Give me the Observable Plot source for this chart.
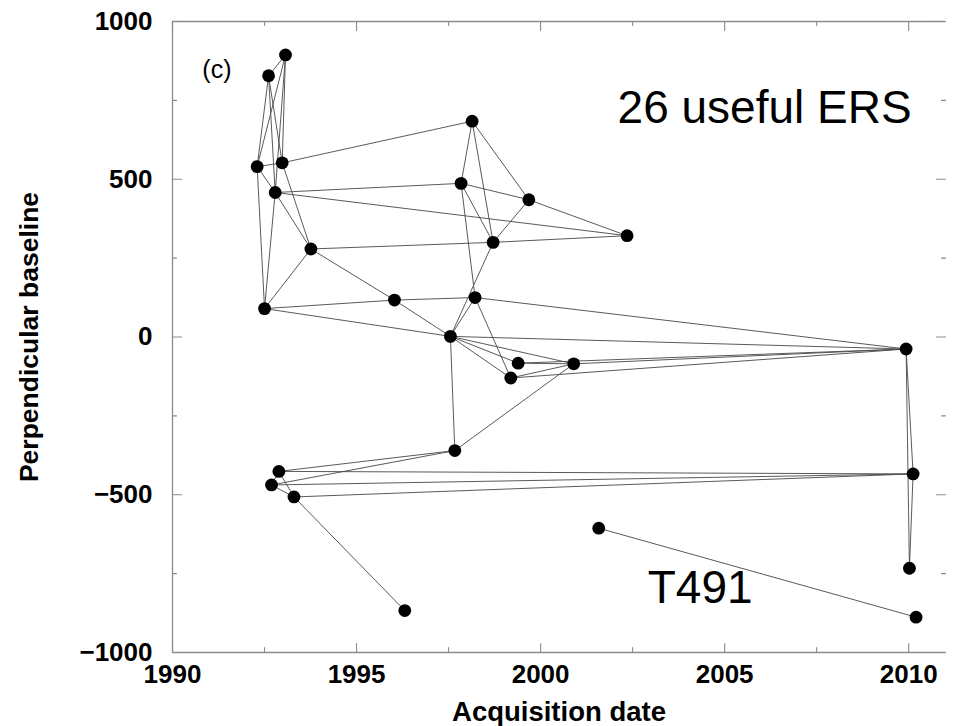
<!DOCTYPE html>
<html>
<head>
<meta charset="utf-8">
<script src="https://cdn.jsdelivr.net/npm/d3@7"></script>
<script src="https://cdn.jsdelivr.net/npm/@observablehq/plot@0.6"></script>
<style>
  html, body { margin: 0; padding: 0; background: #fff; }
  #chart svg { display: block; }
</style>
</head>
<body>
<div id="chart"></div>
<script>
// Acquisition dates (decimal years) of the ERS scenes
const dates = [
  1993.07, 1992.61, 1992.30, 1992.98, 1992.79, 1993.76, 1992.50, 1996.03,
  1997.55, 1998.14, 1997.84, 1999.68, 1998.71, 1998.22, 2002.35, 2009.93,
  1999.39, 2000.90, 1999.19, 1997.67, 1992.89, 1992.69, 1993.30, 2010.12,
  1996.31, 2001.58, 2010.02, 2010.20
];
// Perpendicular baselines (m)
const baselines = [
  894, 828, 540, 552, 458, 279, 90, 117,
  2, 684, 487, 435, 300, 125, 321, -38,
  -83, -85, -130, -360, -426, -469, -507, -434,
  -867, -606, -733, -888
];
// Interferometric pairs (1-based scene numbers)
const pairs = [
  [1,2],[1,3],[1,4],[1,5],[2,3],[2,4],[2,5],[3,4],[3,5],[3,7],[5,7],[4,6],[5,6],[6,7],
  [4,10],[5,11],[5,15],[6,8],[6,13],[7,8],[7,9],[8,9],[8,14],
  [10,11],[10,12],[10,13],[11,12],[11,13],[11,14],[12,13],[12,15],[13,15],[13,9],[14,9],
  [14,19],[14,16],[9,16],[9,17],[9,18],[9,19],[17,18],[17,16],[18,16],[19,18],[19,16],
  [18,20],[9,20],[16,24],[24,27],[16,27],[20,21],[20,22],[21,24],[22,24],[23,24],
  [21,22],[22,23],[21,23],[23,25],[26,28]
];
// Axis ticks
const xMajor = [1990, 1995, 2000, 2005, 2010];
const xMinor = [1992.5, 1997.5, 2002.5, 2007.5];
const yMajor = [-1000, -500, 0, 500, 1000];
const yMinor = [-750, -250, 250, 750];
// Annotations: text, date, baseline
const noteText = ["(c)", "26 useful ERS", "T491"];
const noteX = [1990.81, 2010.08, 2002.91];
const noteY = [822, 679, -842];

const scenes = dates.map((d, i) => ({date: d, bperp: baselines[i]}));
const links = pairs.map(([a, b]) => ({a: scenes[a - 1], b: scenes[b - 1]}));
const notes = noteText.map((t, i) => ({text: t, x: noteX[i], y: noteY[i]}));

const tickShape = {draw(ctx, l) { ctx.moveTo(0, 0); ctx.lineTo(0, -l); }};
const frameColor = "#8c8c8c";
const fmt = d => (d < 0 ? "\u2212" + Math.abs(d) : String(d));

function ticks(values, len, side) {
  const opts = {length: len, anchor: "start", shape: tickShape, stroke: frameColor, strokeWidth: 1.1};
  if (side === "left") return Plot.vector(values, {...opts, x: () => 1990, y: d => d, rotate: 90});
  if (side === "right") return Plot.vector(values, {...opts, x: () => 2011, y: d => d, rotate: -90});
  if (side === "bottom") return Plot.vector(values, {...opts, x: d => d, y: () => -1000, rotate: 0});
  return Plot.vector(values, {...opts, x: d => d, y: () => 1000, rotate: 180});
}

const chart = Plot.plot({
  width: 954,
  height: 726,
  marginLeft: 172,
  marginRight: 9,
  marginTop: 21,
  marginBottom: 74,
  x: {domain: [1990, 2011]},
  y: {domain: [-1000, 1000]},
  style: {fontFamily: "'Liberation Sans', Arial, Helvetica, sans-serif", background: "#fff", color: "#000"},
  marks: [
    Plot.ruleX([1990], {stroke: frameColor, strokeWidth: 1.3}),
    Plot.ruleY([-1000, 1000], {stroke: frameColor, strokeWidth: 1.3}),
    ticks(yMajor, 9, "left"), ticks(yMinor, 4, "left"),
    ticks(yMajor, 9, "right"), ticks(yMinor, 4, "right"),
    ticks(xMajor, 9, "bottom"), ticks(xMinor, 5, "bottom"),
    ticks(xMajor, 9, "top"), ticks(xMinor, 4, "top"),
    Plot.axisX({ticks: xMajor, tickSize: 0, tickPadding: 12.5, tickFormat: d => String(d),
      fontSize: 26, fontWeight: "bold", label: null}),
    Plot.axisY({ticks: yMajor, tickSize: 0, tickPadding: 20, tickFormat: fmt,
      fontSize: 26, fontWeight: "bold", label: null}),
    Plot.text(["Acquisition date"], {frameAnchor: "bottom", dy: 68, lineAnchor: "bottom", textAnchor: "middle",
      fontSize: 27.5, fontWeight: "bold", fill: "#000"}),
    Plot.text(["Perpendicular baseline"], {frameAnchor: "left", dx: -135, rotate: -90, lineAnchor: "bottom",
      textAnchor: "middle", fontSize: 26.5, fontWeight: "bold", fill: "#000"}),
    Plot.link(links, {x1: d => d.a.date, y1: d => d.a.bperp, x2: d => d.b.date, y2: d => d.b.bperp,
      stroke: "#505050", strokeWidth: 0.95}),
    Plot.dot(scenes, {x: "date", y: "bperp", r: 6.4, fill: "#000", stroke: "none"}),
    Plot.text(notes.slice(0, 1), {x: "x", y: "y", text: "text", textAnchor: "start", lineAnchor: "bottom",
      fontSize: 25, fill: "#000"}),
    Plot.text(notes.slice(1, 2), {x: "x", y: "y", text: "text", textAnchor: "end", lineAnchor: "bottom",
      fontSize: 46, fill: "#000"}),
    Plot.text(notes.slice(2, 3), {x: "x", y: "y", text: "text", textAnchor: "start", lineAnchor: "bottom",
      fontSize: 46, fill: "#000"})
  ]
});
document.getElementById("chart").appendChild(chart);
</script>
</body>
</html>
